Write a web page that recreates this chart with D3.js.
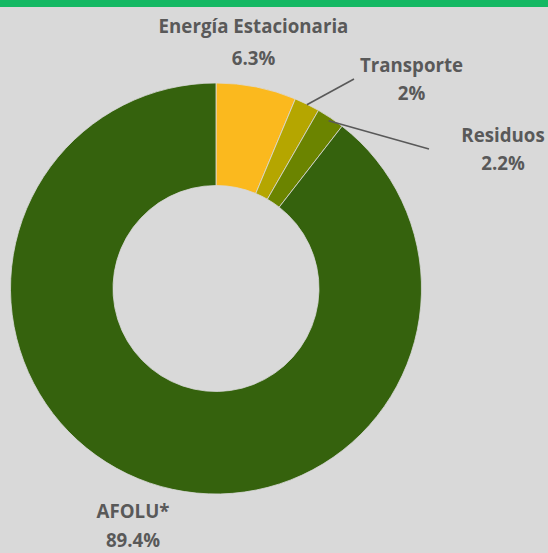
<!DOCTYPE html>
<html>
<head>
<meta charset="utf-8">
<script src="https://cdn.jsdelivr.net/npm/d3@7"></script>
<style>
  html, body { margin: 0; padding: 0; background: #d9d9d9; }
  svg { display: block; }
  .label { font-family: "Open Sans", sans-serif; font-weight: 700; fill: #595959; }
</style>
</head>
<body>
<div id="chart"></div>
<script>
// data
const categories = ["Energía Estacionaria", "Transporte", "Residuos", "AFOLU*"];
const values = [6.3, 2, 2.2, 89.4];
const valueLabels = ["6.3%", "2%", "2.2%", "89.4%"];
const colors = ["#fbb91e", "#b5a600", "#6b8400", "#35620d"];

// layout of the labels (text centre, baseline, line gap, leader line end)
const labelLayout = [
  { x: 253.5, y: 33, gap: 32, line: false },
  { x: 411.5, y: 71.5, gap: 28, line: true, lx: 354, ly: 79, r: 205 },
  { x: 503, y: 142, gap: 28, line: true, lx: 429, ly: 149, r: 202 },
  { x: 133, y: 518, gap: 29, line: false }
];

const width = 548, height = 553;
const cx = 216, cy = 288.5, outerR = 205.5, innerR = 103;

const svg = d3.select("#chart").append("svg")
  .attr("width", width)
  .attr("height", height);

svg.append("rect")
  .attr("width", width).attr("height", height)
  .attr("fill", "#d9d9d9");

// green strip on top
svg.append("rect")
  .attr("width", width).attr("height", 7)
  .attr("fill", "#14b863");

const pie = d3.pie().sort(null).value(d => d);
const arcs = pie(values);
const arc = d3.arc().innerRadius(innerR).outerRadius(outerR);

const g = svg.append("g").attr("transform", `translate(${cx},${cy})`);

g.selectAll("path.slice")
  .data(arcs)
  .enter().append("path")
  .attr("class", "slice")
  .attr("d", arc)
  .attr("fill", (d, i) => colors[i])
  .attr("stroke", "#d9d9d9")
  .attr("stroke-width", 0.8);

// leader lines
arcs.forEach((d, i) => {
  const L = labelLayout[i];
  if (!L.line) return;
  const a = (d.startAngle + d.endAngle) / 2;
  svg.append("line")
    .attr("x1", cx + L.r * Math.sin(a))
    .attr("y1", cy - L.r * Math.cos(a))
    .attr("x2", L.lx)
    .attr("y2", L.ly)
    .attr("stroke", "#595959")
    .attr("stroke-width", 1.6);
});

// labels
categories.forEach((c, i) => {
  const L = labelLayout[i];
  const t = svg.append("text")
    .attr("class", "label")
    .attr("text-anchor", "middle")
    .attr("font-size", 18.7);
  t.append("tspan").attr("x", L.x).attr("y", L.y).text(c);
  t.append("tspan").attr("x", L.x).attr("y", L.y + L.gap).text(valueLabels[i]);
});
</script>
</body>
</html>
